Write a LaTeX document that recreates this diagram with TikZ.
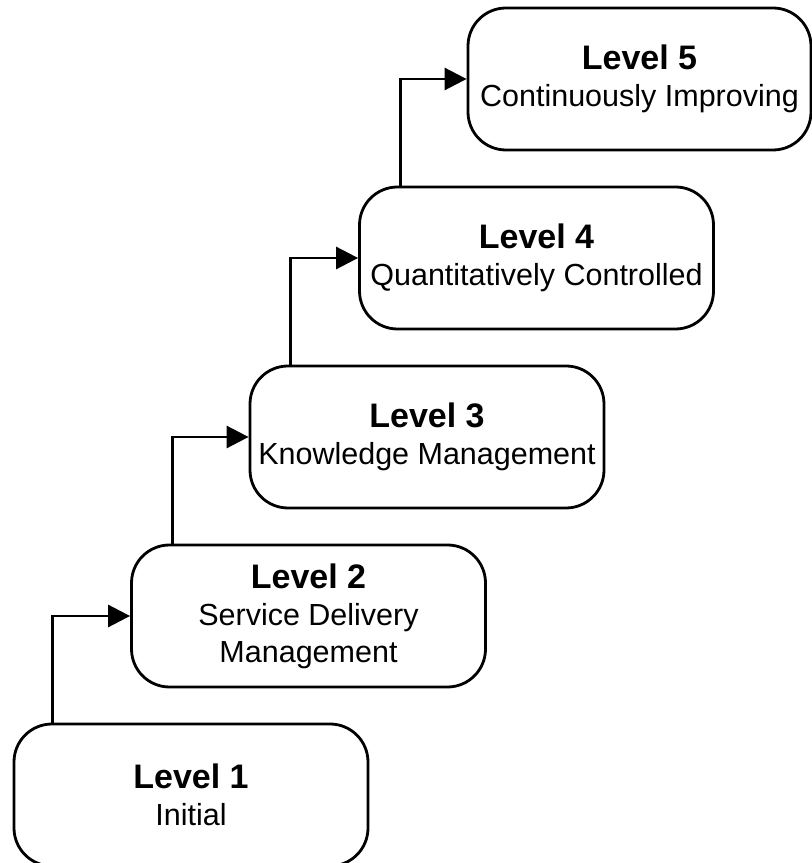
\documentclass[tikz,border=0pt]{standalone}
\usepackage{fontspec}
\setmainfont{Liberation Sans}
\usetikzlibrary{arrows.meta}

\begin{document}
\begin{tikzpicture}[x=1pt, y=1pt, node distance=179pt, stage/.style={rectangle, draw, line width=2.8pt, rounded corners=38pt, minimum width=354pt, minimum height=142pt, inner sep=0pt, align=center, font=\fontsize{30.5}{37}\selectfont}, climb/.style={-{Triangle[length=22pt, width=22pt]}, line width=2.8pt}]

  \useasboundingbox (0,0) rectangle (812,863);

  \node[stage] (lvl1) at (191,68) {{\bfseries\fontsize{34}{40}\selectfont Level 1}\\Initial};
  \node[stage, above of=lvl1, xshift=117.5pt] (lvl2) {{\bfseries\fontsize{34}{40}\selectfont Level 2}\\Service Delivery\\Management};
  \node[stage, above of=lvl2, xshift=118.5pt] (lvl3) {{\bfseries\fontsize{34}{40}\selectfont Level 3}\\Knowledge Management};
  \node[stage, above of=lvl3, xshift=109.5pt] (lvl4) {{\bfseries\fontsize{34}{40}\selectfont Level 4}\\Quantitatively Controlled};
  \node[stage, above of=lvl4, xshift=103pt, minimum width=343pt] (lvl5) {{\bfseries\fontsize{34}{40}\selectfont Level 5}\\Continuously Improving};

  \draw[climb] ([xshift=40pt]lvl1.north west) |- (lvl2.west);
  \draw[climb] ([xshift=42pt]lvl2.north west) |- (lvl3.west);
  \draw[climb] ([xshift=42pt]lvl3.north west) |- (lvl4.west);
  \draw[climb] ([xshift=42pt]lvl4.north west) |- (lvl5.west);
\end{tikzpicture}
\end{document}
